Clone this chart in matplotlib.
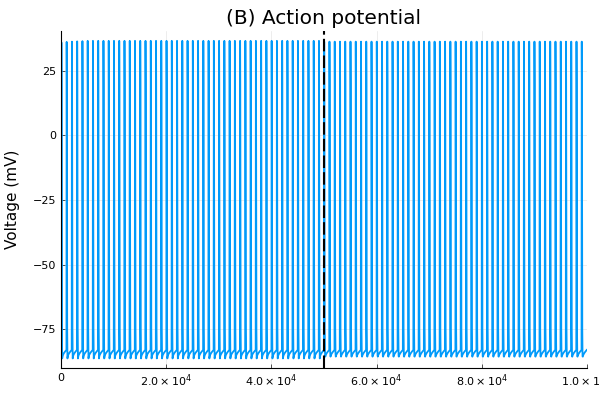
import numpy as np
import matplotlib.pyplot as plt

# one action potential cycle (phase of interval, voltage in mV)
cycle_phase = [0.00, 0.02, 0.04, 0.07, 0.10, 0.14, 0.19, 0.24, 0.32, 0.50, 0.75, 1.00]
cycle_shape = [-83.0, -5.0, "peak", 20.0, -30.0, -75.0, "trough", -85.6, -85.0, -84.3, -83.6, -83.0]

spike_interval = 1000.0      # ms between spikes
switch_time = 5.0e4

peaks_before = [36.0, 36.2, 36.3, 36.4, 36.5] + [36.6] * 45
troughs_before = [-86.3] * 50
peaks_after = [36.3] * 50
troughs_after = [-84.0, -84.2, -84.4, -84.6, -84.7, -84.8, -84.9, -85.0, -85.1, -85.2,
                 -85.2, -85.3, -85.3, -85.4, -85.4] + [-85.5] * 35

xticks = [0, 2e4, 4e4, 6e4, 8e4, 1e5]
xticklabels = ["0", r"$2.0\times10^{4}$", r"$4.0\times10^{4}$", r"$6.0\times10^{4}$",
               r"$8.0\times10^{4}$", r"$1.0\times10^{5}$"]
yticks = [-75, -50, -25, 0, 25]


def build_trace(start, peaks, troughs):
    t, v = [], []
    for i, (pk, tr) in enumerate(zip(peaks, troughs)):
        t0 = start + i * spike_interval
        for ph, val in zip(cycle_phase, cycle_shape):
            t.append(t0 + ph * spike_interval)
            if val == "peak":
                v.append(pk)
            elif val == "trough":
                v.append(tr)
            else:
                v.append(val)
    return t, v


t1, v1 = build_trace(0.0, peaks_before, troughs_before)
t2, v2 = build_trace(switch_time, peaks_after, troughs_after)
t = np.array(t1 + t2[1:])
v = np.array(v1 + v2[1:])

fig, ax = plt.subplots(figsize=(6, 4), dpi=100)
fig.subplots_adjust(left=0.102, right=0.978, bottom=0.08, top=0.923)

ax.plot(t, v, color="#009afa", lw=1.3)
ax.axvline(switch_time, color="black", ls=(0, (6, 2)), lw=1.5)

ax.set_xlim(0, 1e5)
ax.set_ylim(-90.0, 40.5)
ax.set_xticks(xticks)
ax.set_xticklabels(xticklabels)
ax.set_yticks(yticks)
ax.tick_params(direction="in", length=3, labelsize=8, width=0.6, color="#333333")
ax.grid(True, color="black", alpha=0.1, lw=0.5)
for s in ["top", "right"]:
    ax.spines[s].set_visible(False)
ax.set_title("(B) Action potential", fontsize=14.5, pad=5)
ax.set_ylabel("Voltage (mV)", fontsize=11, labelpad=9)

fig.savefig("out.png")
